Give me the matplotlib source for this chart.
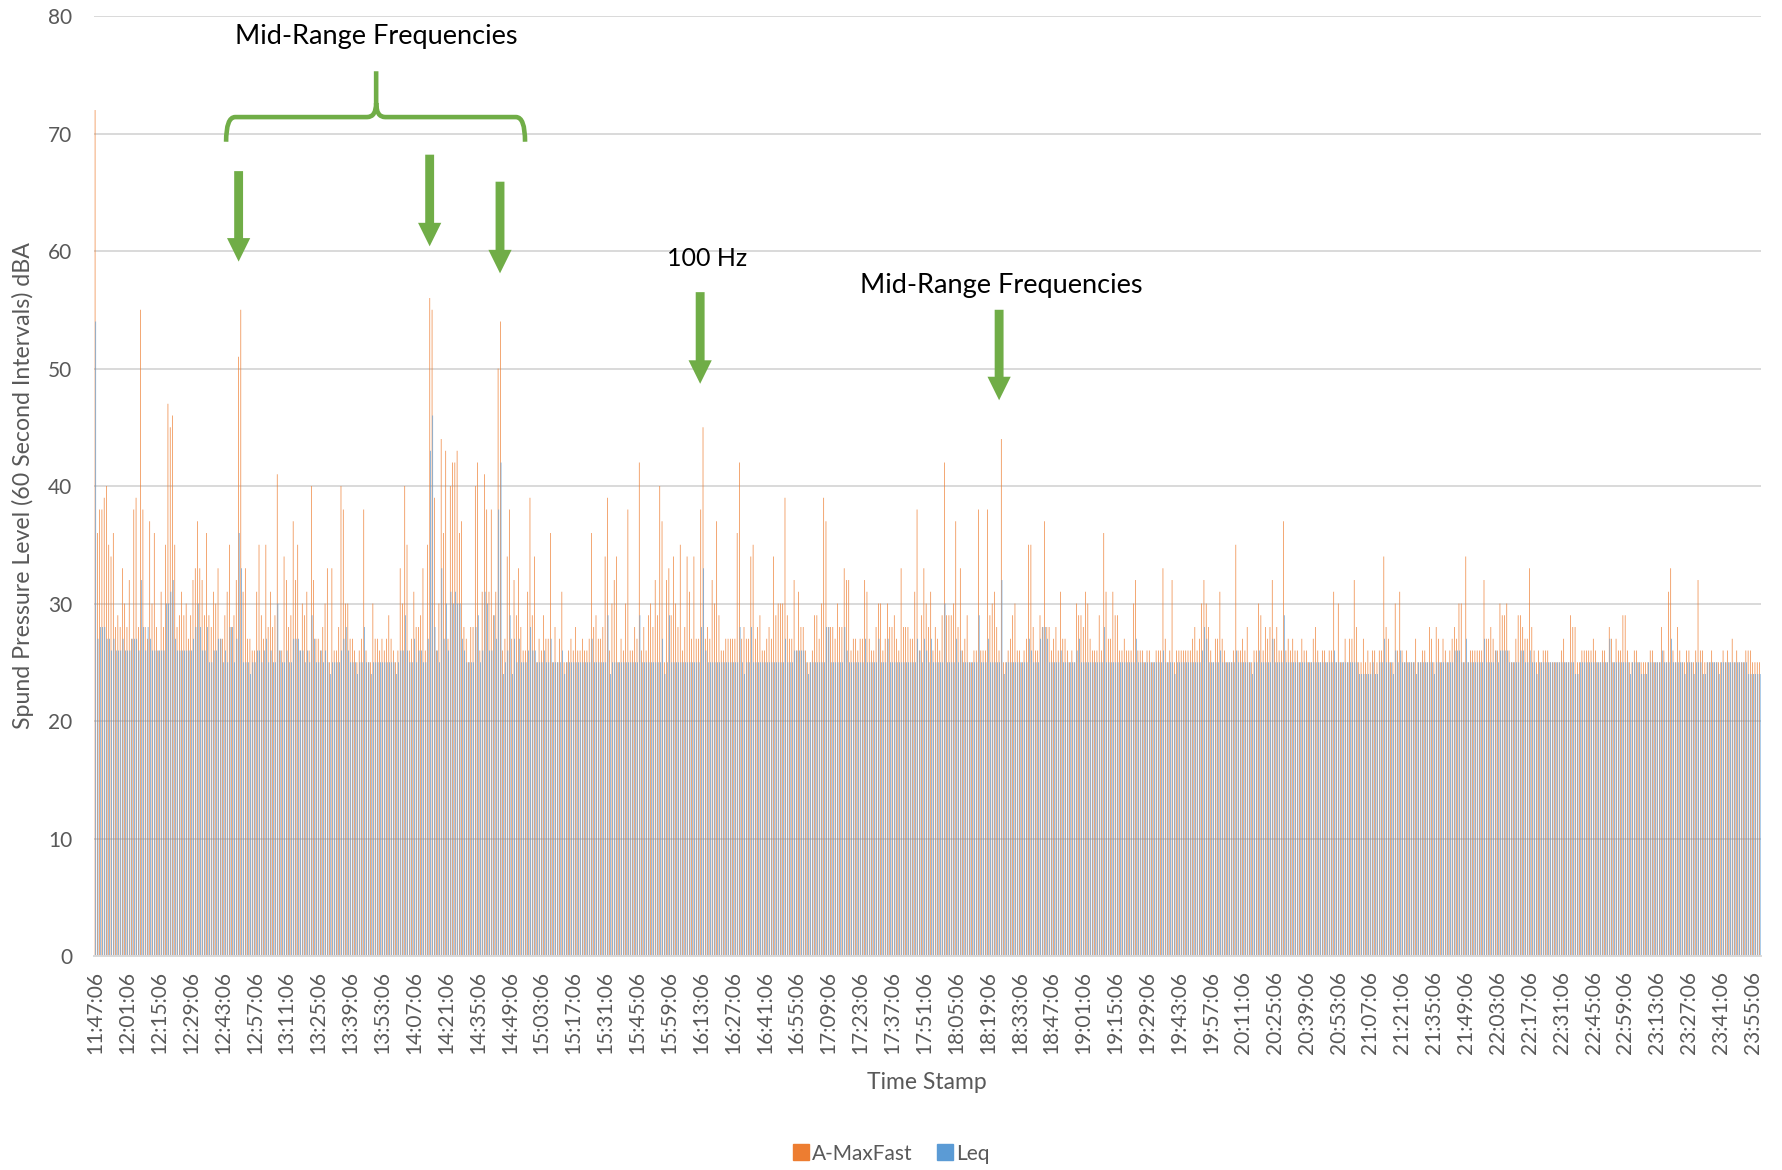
import pandas as pd
import matplotlib
matplotlib.use('Agg')
import matplotlib.pyplot as plt
from matplotlib.patches import FancyArrow, PathPatch
from matplotlib.path import Path
from matplotlib.lines import Line2D

# one value per minute (11:47:06 onwards)
A_MAXFAST = """
72 36 38 38 39 40 35 34 36 28  29 28 33 30 28 32 27 38 39 28
55 38 28 27 37 30 36 28 26 31  28 35 47 45 46 35 28 29 31 29
30 27 29 32 33 37 33 32 29 36  29 28 31 30 33 27 27 29 31 35
28 29 32 51 55 31 33 27 27 26  26 31 35 29 27 35 28 31 28 29
41 26 26 34 32 28 29 37 32 35  26 30 29 31 26 40 32 27 27 26
28 30 33 25 33 26 26 28 40 38  30 30 27 27 26 25 26 27 38 26
25 25 30 27 27 26 27 26 27 29  27 26 25 26 33 30 40 35 26 27
31 28 28 29 33 26 35 56 55 39  26 30 44 36 43 27 40 42 42 43
36 37 28 27 25 28 28 40 42 26  31 41 38 31 38 29 31 50 54 26
27 34 38 27 32 29 33 28 26 26  31 39 29 34 25 27 26 29 27 27
36 25 28 25 27 31 25 25 26 27  26 28 26 26 27 26 26 27 36 28
29 27 27 28 34 39 26 30 32 34  25 27 26 30 38 26 26 28 27 42
26 28 26 29 30 28 32 29 40 37  25 32 33 29 34 30 28 35 26 28
34 31 27 34 27 27 38 45 27 28  27 32 30 37 29 26 26 27 27 27
27 27 36 42 27 28 27 27 34 35  27 28 29 26 26 27 28 27 34 29
30 30 30 39 29 27 27 32 26 31  28 28 26 25 25 26 29 29 27 30
39 37 28 28 28 27 30 28 28 33  32 32 26 27 27 26 27 27 32 31
27 26 26 28 30 30 26 27 30 28  28 29 27 26 33 28 28 28 27 27
31 38 26 29 33 30 28 31 26 28  27 26 29 42 29 29 29 30 37 28
33 26 27 29 25 25 26 26 38 26  26 26 38 29 30 31 28 26 44 25
25 26 27 29 30 26 26 25 26 27  35 35 28 26 26 29 28 37 28 28
26 27 28 26 31 27 27 26 25 26  25 30 29 29 28 31 30 27 26 26
26 29 26 36 31 27 27 31 29 29  26 26 27 26 26 26 30 32 26 26
26 25 26 26 25 25 26 26 26 33  27 25 26 32 25 26 26 26 26 26
26 26 27 28 26 27 30 32 30 28  26 25 27 27 31 27 26 25 25 25
26 35 26 26 27 26 28 25 25 26  26 30 29 26 28 27 28 32 27 28
26 26 37 26 27 26 27 26 26 25  27 26 26 25 25 27 28 26 25 26
26 25 26 26 31 25 30 25 25 27  25 27 27 32 28 25 25 27 25 26
25 26 26 25 26 26 34 28 27 25  25 30 26 31 26 25 26 25 25 25
27 25 25 26 26 25 28 27 25 28  27 25 27 26 25 26 27 28 27 30
30 25 34 25 26 26 26 26 26 26  32 27 27 28 27 26 26 30 29 29
30 26 25 25 27 29 29 28 27 27  33 28 26 25 26 25 26 26 26 25
25 25 25 25 26 27 25 25 29 28  28 25 25 26 26 26 26 26 27 26
25 25 26 26 25 28 27 25 27 26  26 29 29 26 25 25 26 26 25 25
25 25 25 26 26 25 25 25 28 26  25 31 33 26 25 28 26 25 25 26
26 25 25 26 32 26 26 25 25 25  26 25 25 25 25 26 25 26 25 27
25 26 25 25 25 26 26 26 25 25  25 25
"""

LEQ = """
54 27 28 28 28 27 27 26 27 26  26 26 27 26 26 26 27 27 27 26
32 28 26 28 27 26 26 26 26 26  26 30 30 31 32 27 26 26 26 26
26 26 26 27 28 30 28 26 26 28  25 25 26 26 27 27 25 26 25 28
28 25 27 36 33 25 25 25 24 25  25 26 26 25 26 27 25 26 25 25
30 26 25 25 26 25 25 27 27 27  26 26 25 26 25 29 27 25 25 26
25 26 25 24 25 25 25 25 26 27  28 26 25 25 25 24 25 25 28 25
25 24 25 25 25 25 25 25 25 25  25 25 24 25 26 26 29 26 25 25
27 25 26 26 25 25 27 43 46 28  26 25 33 27 30 26 31 30 31 30
30 27 26 25 25 25 25 28 29 25  26 31 30 26 26 29 27 38 42 24
25 26 29 24 27 25 27 25 25 25  26 28 26 26 25 25 25 26 25 25
27 25 25 25 25 26 24 25 25 25  25 25 25 25 25 25 25 25 27 25
25 25 25 25 25 29 24 25 25 25  25 25 25 25 25 25 25 25 25 29
25 25 25 25 25 25 25 25 25 27  24 25 29 25 25 25 25 25 25 25
25 25 25 25 25 25 28 33 26 25  25 25 25 25 25 25 25 25 25 25
25 25 25 28 25 24 25 25 28 25  25 25 25 25 25 25 25 25 25 25
25 25 25 27 25 25 25 26 26 26  26 26 25 24 25 25 25 25 25 25
25 28 28 25 25 25 25 25 25 28  26 25 25 25 25 25 25 25 27 25
25 25 25 25 27 25 25 25 27 25  25 25 25 25 25 25 25 25 25 25
25 27 26 25 27 26 25 27 25 25  25 25 25 30 25 25 25 25 27 25
26 25 25 25 25 25 25 25 29 25  25 25 27 25 25 25 25 25 32 24
25 25 25 25 25 25 25 25 25 25  27 26 25 25 25 27 28 28 27 25
25 25 25 25 26 25 25 25 25 25  25 26 27 25 25 25 25 25 25 25
25 25 25 28 25 25 25 25 25 25  25 25 25 25 25 25 25 27 25 25
25 25 25 25 25 25 25 25 25 26  25 25 25 25 24 25 25 25 25 25
25 25 25 25 25 25 26 28 27 25  25 25 25 25 26 25 25 25 25 25
25 26 25 25 25 25 25 25 24 25  25 26 25 25 25 25 25 27 25 25
25 25 29 25 25 25 25 25 25 25  25 25 25 25 25 25 25 25 25 25
25 25 25 25 26 25 25 25 25 25  25 25 25 25 25 24 24 24 24 24
24 25 24 24 25 25 27 25 25 25  24 26 25 26 25 25 25 25 25 25
24 25 25 25 25 25 25 25 24 25  25 25 25 25 25 25 25 26 26 26
25 25 27 25 25 25 25 25 25 25  27 25 25 25 25 26 25 26 26 26
26 25 25 25 25 25 26 26 25 25  26 25 25 24 25 25 25 25 25 25
25 25 25 25 25 25 25 25 25 25  24 24 25 25 25 25 25 25 25 25
25 25 25 25 25 27 25 25 25 25  25 25 25 25 24 25 25 25 25 24
24 24 25 25 25 25 25 25 26 25  25 25 27 25 25 25 25 25 24 25
25 25 24 25 25 25 24 24 25 25  25 25 25 24 25 25 25 25 25 25
25 25 25 25 25 25 24 24 24 24  24 24
"""

a_max = [int(v) for v in A_MAXFAST.split()]
leq = [int(v) for v in LEQ.split()]

# category axis: one bar pair per minute, a label every 14 minutes
times = pd.date_range('2017-01-01 11:47:06', periods=len(a_max), freq='min').strftime('%H:%M:%S')
tick_step = 14

# call-outs drawn on the chart
arrow_x = [62.9, 146.8, 177.7, 265.6, 396.9]
arrow_top = [66.8, 68.2, 65.9, 56.5, 55.0]
arrow_tip = [59.1, 60.4, 58.1, 48.7, 47.3]
notes = ["Mid-Range Frequencies", "100 Hz", "Mid-Range Frequencies"]
note_x = [123.3, 268.6, 397.9]
note_y = [78.3, 59.4, 57.1]
note_size = [19.5, 18, 19.5]

ORANGE = '#ED7D31'
BLUE = '#5B9BD5'
GREEN = '#70AD47'
GREY_TXT = '#595959'

plt.rcParams['font.family'] = ['Lato', 'DejaVu Sans']

fig = plt.figure(figsize=(17.82, 11.70), dpi=100)
ax = fig.add_axes([0.0529, 0.1829, 0.9353, 0.8034])

x = range(len(a_max))
bw = 0.29
ax.bar([i - bw / 2 for i in x], a_max, width=bw, color=ORANGE, linewidth=0, snap=False)
ax.bar([i + bw / 2 for i in x], leq, width=bw, color=BLUE, linewidth=0, snap=False)

ax.set_xlim(-0.5, len(a_max) - 0.5)
ax.set_ylim(0, 80)
ax.set_yticks(range(0, 81, 10))
ax.set_xticks(range(0, len(a_max), tick_step))
ax.set_xticklabels(times[::tick_step], rotation=90)
ax.tick_params(axis='y', length=0, pad=16, labelsize=15, labelcolor=GREY_TXT)
ax.tick_params(axis='x', length=0, pad=11, labelsize=15, labelcolor=GREY_TXT)

ax.grid(axis='y', color='#D9D9D9', linewidth=1.4)
ax.set_axisbelow(True)
for side in ['left', 'right', 'top']:
    ax.spines[side].set_visible(False)
ax.spines['bottom'].set_color('#D9D9D9')
ax.spines['bottom'].set_linewidth(1.4)

fig.text(0.013, 0.585, 'Spund Pressure Level (60 Second Intervals) dBA', rotation=90,
         ha='center', va='center', fontsize=16.7, color=GREY_TXT)
fig.text(0.52, 0.075, 'Time Stamp', ha='center', va='center', fontsize=16.5, color=GREY_TXT)

# green arrows and brace
for xa, yt, yb in zip(arrow_x, arrow_top, arrow_tip):
    ax.add_patch(FancyArrow(xa, yt, 0, yb - yt, width=3.9, head_width=10.2, head_length=2.0,
                            length_includes_head=True, color=GREEN, linewidth=0))

x0, x1, xc = 57.4, 188.7, 123.3
yl, ye, yt = 71.4, 69.3, 75.3
verts = [(x0, ye), (x0, yl), (x0 + 4, yl), (xc - 4, yl), (xc, yl), (xc, yl + 1.2), (xc, yt),
         (xc, yl + 1.2), (xc, yl), (xc + 4, yl), (x1 - 4, yl), (x1, yl), (x1, ye)]
codes = [Path.MOVETO, Path.CURVE3, Path.CURVE3, Path.LINETO, Path.CURVE3, Path.CURVE3, Path.LINETO,
         Path.MOVETO, Path.CURVE3, Path.CURVE3, Path.LINETO, Path.CURVE3, Path.CURVE3]
ax.add_patch(PathPatch(Path(verts, codes), facecolor='none', edgecolor=GREEN, linewidth=3.3,
                       capstyle='butt', joinstyle='round'))

for txt, nx, ny, fs in zip(notes, note_x, note_y, note_size):
    ax.text(nx, ny, txt, ha='center', va='center', fontsize=fs, color='black')

handles = [Line2D([], [], marker='s', linestyle='', color=ORANGE, markersize=11),
           Line2D([], [], marker='s', linestyle='', color=BLUE, markersize=11)]
fig.legend(handles, ['A-MaxFast', 'Leq'], loc='center', bbox_to_anchor=(0.5, 0.014), ncol=2,
           frameon=False, fontsize=15, labelcolor=GREY_TXT, handletextpad=0.1, columnspacing=1.2,
           handlelength=0.8)

fig.savefig('out.png', dpi=100)
